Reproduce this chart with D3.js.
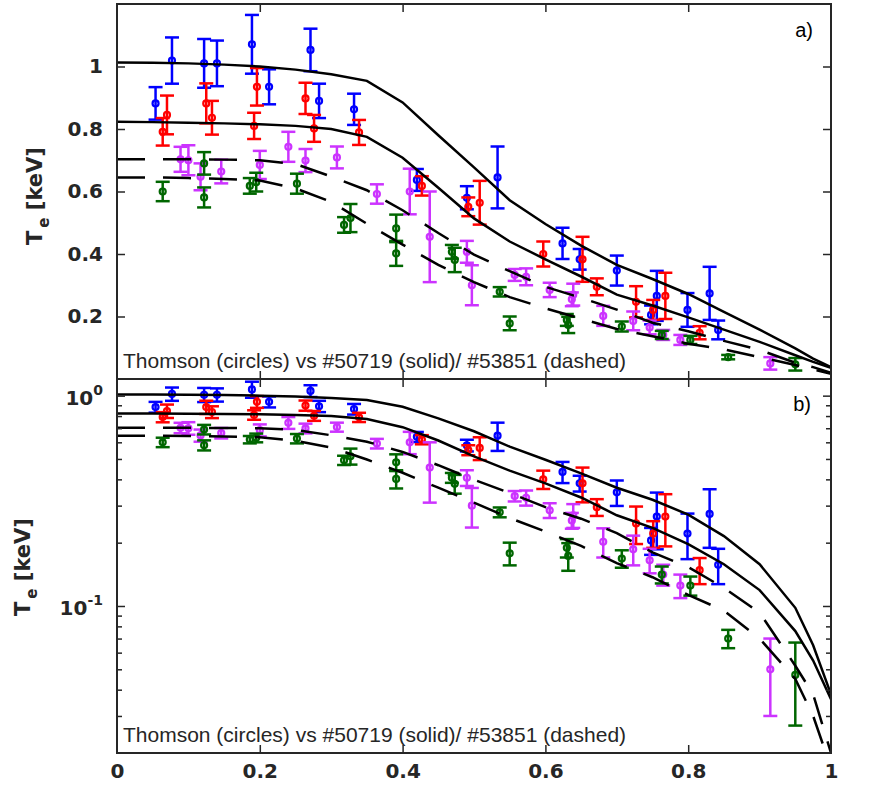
<!DOCTYPE html>
<html>
<head>
<meta charset="utf-8">
<script src="https://cdn.jsdelivr.net/npm/d3@7"></script>
<style>
  body { margin: 0; background: #fff; }
  svg { display: block; }
</style>
</head>
<body>
<svg id="chart" width="885" height="785"></svg>
<script>
// Normalised radius grid of the two modelled profiles.
var rhoGrid = [0, 0.05, 0.1, 0.15, 0.2, 0.25, 0.3, 0.35, 0.4, 0.45, 0.5, 0.55, 0.6, 0.65, 0.7, 0.75, 0.8, 0.85, 0.9, 0.95, 0.975, 1];

// #50719 (solid), two time slices.
var solidHigh = [1.013, 1.012, 1.01, 1.006, 1.0, 0.99, 0.975, 0.954, 0.885, 0.78, 0.677, 0.572, 0.496, 0.427, 0.365, 0.32, 0.272, 0.215, 0.158, 0.098, 0.065, 0.038];
var solidLow = [0.823, 0.822, 0.82, 0.818, 0.815, 0.81, 0.80, 0.775, 0.708, 0.612, 0.514, 0.44, 0.383, 0.328, 0.27, 0.235, 0.197, 0.158, 0.119, 0.076, 0.055, 0.036];

// #53851 (dashed), two time slices.
var dashedHigh = [0.703, 0.703, 0.703, 0.702, 0.70, 0.688, 0.648, 0.604, 0.54, 0.467, 0.398, 0.345, 0.295, 0.26, 0.222, 0.18, 0.153, 0.122, 0.093, 0.052, 0.038, 0.02];
var dashedLow = [0.645, 0.645, 0.643, 0.64, 0.635, 0.61, 0.567, 0.497, 0.43, 0.365, 0.31, 0.262, 0.226, 0.193, 0.16, 0.137, 0.113, 0.095, 0.07, 0.045, 0.03, 0.017];

// Thomson points: [rho, Te (keV), error (keV)]
var thomsonBlue = [
  [0.054, 0.882, 0.052], [0.077, 1.019, 0.074], [0.122, 1.01, 0.078], [0.14, 1.01, 0.073],
  [0.189, 1.071, 0.094], [0.213, 0.935, 0.056], [0.271, 1.053, 0.068], [0.283, 0.89, 0.055],
  [0.332, 0.863, 0.05], [0.42, 0.637, 0.035], [0.49, 0.58, 0.037], [0.533, 0.645, 0.099],
  [0.624, 0.434, 0.05], [0.648, 0.383, 0.033], [0.70, 0.347, 0.048], [0.748, 0.205, 0.03],
  [0.756, 0.266, 0.08], [0.799, 0.221, 0.054], [0.83, 0.274, 0.085], [0.842, 0.157, 0.03]
];
var thomsonRed = [
  [0.064, 0.791, 0.044], [0.07, 0.845, 0.062], [0.125, 0.882, 0.064], [0.133, 0.836, 0.054],
  [0.192, 0.81, 0.042], [0.196, 0.935, 0.06], [0.264, 0.898, 0.05], [0.276, 0.802, 0.043],
  [0.339, 0.789, 0.04], [0.427, 0.618, 0.031], [0.492, 0.551, 0.03], [0.508, 0.564, 0.07],
  [0.597, 0.40, 0.04], [0.652, 0.383, 0.072], [0.672, 0.295, 0.027], [0.727, 0.247, 0.05],
  [0.751, 0.221, 0.032], [0.768, 0.266, 0.074], [0.816, 0.148, 0.021]
];
var thomsonMagenta = [
  [0.089, 0.703, 0.04], [0.10, 0.70, 0.048], [0.117, 0.647, 0.043], [0.146, 0.664, 0.038],
  [0.20, 0.685, 0.045], [0.24, 0.743, 0.048], [0.264, 0.699, 0.037], [0.308, 0.709, 0.035],
  [0.364, 0.592, 0.031], [0.41, 0.60, 0.073], [0.438, 0.455, 0.145], [0.49, 0.407, 0.035],
  [0.497, 0.30, 0.064], [0.557, 0.333, 0.019], [0.573, 0.327, 0.027], [0.606, 0.285, 0.023],
  [0.639, 0.27, 0.035], [0.637, 0.255, 0.022], [0.681, 0.202, 0.032], [0.723, 0.186, 0.03],
  [0.746, 0.165, 0.022], [0.765, 0.141, 0.016], [0.789, 0.125, 0.016], [0.915, 0.05, 0.02]
];
var thomsonGreen = [
  [0.064, 0.60, 0.031], [0.122, 0.581, 0.032], [0.122, 0.69, 0.036], [0.186, 0.618, 0.025],
  [0.195, 0.63, 0.03], [0.252, 0.625, 0.032], [0.318, 0.493, 0.025], [0.327, 0.515, 0.045],
  [0.391, 0.482, 0.044], [0.391, 0.402, 0.04], [0.469, 0.407, 0.022], [0.473, 0.381, 0.039],
  [0.536, 0.279, 0.015], [0.55, 0.178, 0.022], [0.63, 0.189, 0.019], [0.632, 0.173, 0.026],
  [0.707, 0.168, 0.016], [0.763, 0.141, 0.013], [0.803, 0.125, 0.013], [0.856, 0.07, 0.007],
  [0.95, 0.047, 0.02]
];

var xTicks = [0, 0.2, 0.4, 0.6, 0.8, 1];
var linTicks = [0.2, 0.4, 0.6, 0.8, 1];
var logMajor = [0.1, 1];
var logMinor = [0.03, 0.04, 0.05, 0.06, 0.07, 0.08, 0.09, 0.2, 0.3, 0.4, 0.5, 0.6, 0.7, 0.8, 0.9];
var note = "Thomson (circles) vs #50719 (solid)/ #53851 (dashed)";

var axisColor = "#262626";
var tickFont = "'DejaVu Sans', sans-serif";
var textFont = "'Liberation Sans', Arial, sans-serif";

var series = [
  { data: thomsonBlue, color: "#0000ff" },
  { data: thomsonRed, color: "#ff0000" },
  { data: thomsonMagenta, color: "#cc33ff" },
  { data: thomsonGreen, color: "#006600" }
];
var profiles = [
  { te: solidHigh, dash: null },
  { te: solidLow, dash: null },
  { te: dashedHigh, dash: "28,18" },
  { te: dashedLow, dash: "28,18" }
];

var svg = d3.select("#chart");
var x = d3.scaleLinear().domain([0, 1]).range([117, 831]);
var yA = d3.scaleLinear().domain([0, 1.2]).range([379, 4]);
var yB = d3.scaleLog().domain([0.02, 1.2]).range([753, 379]);

function drawPanel(name, y) {
  var top = y.range()[1], bottom = y.range()[0];
  var g = svg.append("g").attr("id", name);

  g.append("clipPath").attr("id", "clip-" + name)
    .append("rect")
    .attr("x", x(0)).attr("y", top)
    .attr("width", x(1) - x(0)).attr("height", bottom - top);

  var plot = g.append("g").attr("clip-path", "url(#clip-" + name + ")");

  // error bars and circles
  series.forEach(function(s) {
    var pts = plot.append("g").selectAll("g")
      .data(s.data).enter().append("g")
      .attr("stroke", s.color).attr("fill", "none").attr("stroke-width", 2.5);
    pts.append("line")
      .attr("x1", function(d) { return x(d[0]); })
      .attr("x2", function(d) { return x(d[0]); })
      .attr("y1", function(d) { return y(d[1] - d[2]); })
      .attr("y2", function(d) { return y(d[1] + d[2]); });
    [-1, 1].forEach(function(sgn) {
      pts.append("line")
        .attr("x1", function(d) { return x(d[0]) - 7; })
        .attr("x2", function(d) { return x(d[0]) + 7; })
        .attr("y1", function(d) { return y(d[1] + sgn * d[2]); })
        .attr("y2", function(d) { return y(d[1] + sgn * d[2]); });
    });
    pts.append("circle")
      .attr("cx", function(d) { return x(d[0]); })
      .attr("cy", function(d) { return y(d[1]); })
      .attr("r", 3)
      .attr("stroke-width", 2.2);
  });

  // modelled profiles
  var line = d3.line()
    .x(function(d) { return x(d[0]); })
    .y(function(d) { return y(d[1]); });
  profiles.forEach(function(p) {
    plot.append("path")
      .datum(d3.zip(rhoGrid, p.te))
      .attr("d", line)
      .attr("fill", "none")
      .attr("stroke", "#000")
      .attr("stroke-width", 2.5)
      .attr("stroke-dasharray", p.dash);
  });

  // inward ticks on top and bottom
  var inner = [0.2, 0.4, 0.6, 0.8];
  g.append("g").attr("transform", "translate(0," + bottom + ")")
    .call(d3.axisBottom(x).tickValues(inner).tickSize(-8).tickFormat(""));
  g.append("g").attr("transform", "translate(0," + top + ")")
    .call(d3.axisTop(x).tickValues(inner).tickSize(-8).tickFormat(""));

  g.append("text")
    .attr("x", 123).attr("y", bottom - 11)
    .attr("font-family", textFont).attr("font-size", 21)
    .attr("fill", axisColor)
    .text(note);

  return g;
}

// ---- panel a (linear)
var ga = drawPanel("a", yA);
ga.append("g").attr("transform", "translate(" + x(0) + ",0)")
  .call(d3.axisLeft(yA).tickValues(linTicks).tickSize(-8).tickPadding(14)
    .tickFormat(function(d) { return d === 1 ? "1" : d3.format(".1f")(d); }));
ga.append("g").attr("transform", "translate(" + x(1) + ",0)")
  .call(d3.axisRight(yA).tickValues(linTicks).tickSize(-8).tickFormat(""));
ga.append("text").attr("x", 813).attr("y", 37).attr("text-anchor", "end")
  .attr("font-family", textFont).attr("font-size", 20).attr("fill", "#000").text("a)");

// ---- panel b (log)
var gb = drawPanel("b", yB);
[d3.axisLeft, d3.axisRight].forEach(function(ax, i) {
  var xp = i === 0 ? x(0) : x(1);
  gb.append("g").attr("transform", "translate(" + xp + ",0)")
    .call(ax(yB).tickValues(logMajor).tickSize(-8).tickFormat(""));
  gb.append("g").attr("transform", "translate(" + xp + ",0)")
    .call(ax(yB).tickValues(logMinor).tickSize(-5).tickFormat(""));
});
logMajor.forEach(function(v) {
  var t = gb.append("text")
    .attr("x", 103).attr("y", yB(v) + 9)
    .attr("text-anchor", "end")
    .attr("font-family", tickFont).attr("font-weight", "bold")
    .attr("font-size", 20).attr("fill", axisColor);
  t.append("tspan").text("10");
  t.append("tspan").attr("dy", -10).attr("font-size", 14)
    .text(v === 1 ? "0" : "-1");
});
gb.append("text").attr("x", 811).attr("y", 411).attr("text-anchor", "end")
  .attr("font-family", textFont).attr("font-size", 20).attr("fill", "#000").text("b)");

// x tick labels below panel b (kept inside the bottom edge)
gb.append("g").attr("transform", "translate(0,753)")
  .call(d3.axisBottom(x).tickValues(xTicks).tickSize(0).tickPadding(11)
    .tickFormat(function(d) { return d === 0 || d === 1 ? String(d) : d3.format(".1f")(d); }));

// styling of all axes
svg.selectAll(".tick line").attr("stroke", axisColor).attr("stroke-width", 1.5);
svg.selectAll(".domain").remove();
svg.selectAll(".tick text")
  .attr("font-family", tickFont).attr("font-weight", "bold")
  .attr("font-size", 20).attr("fill", axisColor);

// frames
[yA, yB].forEach(function(y) {
  svg.append("rect")
    .attr("x", x(0)).attr("y", y.range()[1])
    .attr("width", x(1) - x(0)).attr("height", y.range()[0] - y.range()[1])
    .attr("fill", "none").attr("stroke", axisColor).attr("stroke-width", 2);
});

// y axis titles
function yTitle(cx, cy) {
  var t = svg.append("text")
    .attr("transform", "translate(" + cx + "," + cy + ") rotate(-90)")
    .attr("text-anchor", "middle")
    .attr("font-family", tickFont).attr("font-weight", "bold")
    .attr("font-size", 21).attr("fill", axisColor);
  t.append("tspan").text("T");
  t.append("tspan").attr("dx", 3).attr("dy", 7).attr("font-size", 15).text("e");
  t.append("tspan").attr("dy", -7).text("\u00a0[keV]");
}
yTitle(42, 196);
yTitle(30, 567);
</script>
</body>
</html>
